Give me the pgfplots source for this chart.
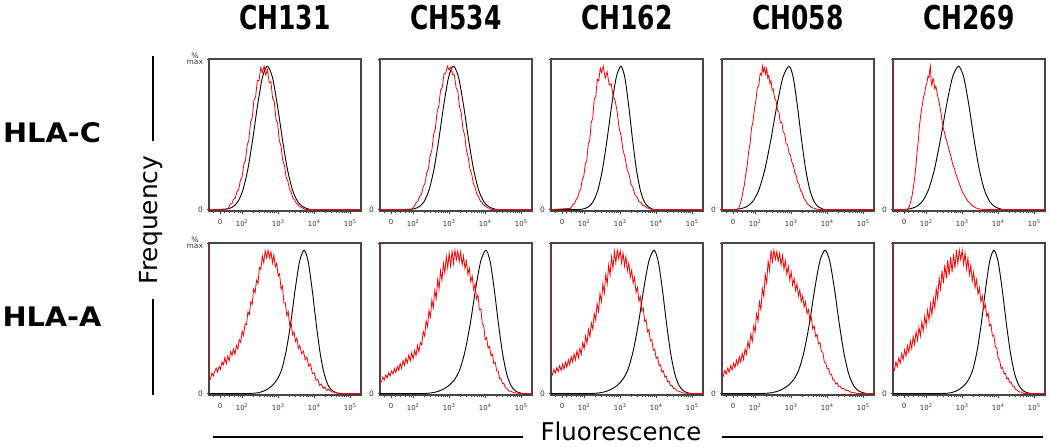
\documentclass[border=0pt]{standalone}
\usepackage{fontspec}
\setmainfont{DejaVu Sans}
\usepackage{graphicx}
\usepackage{pgfplots}
\pgfplotsset{compat=1.18}
\pgfplotsset{
 panel/.style={
   scale only axis, width=152bp, height=152bp,
   xmin=1.08, xmax=5.3, ymin=-1, ymax=105,
   axis line style={draw=black!72, line width=1.1bp},
   xtick={1.39,2,3,4,5},
   xticklabels={0,10\textsuperscript{2},10\textsuperscript{3},10\textsuperscript{4},10\textsuperscript{5}},
   minor xtick={1.2,1.5,1.65,1.78,1.88,1.95,2.301,2.477,2.602,2.699,2.778,2.845,2.903,2.954,3.301,3.477,3.602,3.699,3.778,3.845,3.903,3.954,4.301,4.477,4.602,4.699,4.778,4.845,4.903,4.954},
   ytick={0,105},
   yticklabels={0,{}},
   tick align=outside,
   xtick pos=left, ytick pos=left,
   major tick length=2.5bp, minor tick length=1.6bp,
   every tick/.style={black!75, line width=0.6bp},
   xticklabel style={font=\fontsize{7}{7}\selectfont, text=black!80, yshift=-2.5bp},
   yticklabel style={font=\fontsize{7.5}{7}\selectfont, text=black!80, align=center},
 },
 firstcol/.style={yticklabels={0,{\%\\[-1.5pt]max}}},
 blk/.style={black, line width=0.9bp, smooth, tension=0.45},
 rd/.style={red, line width=0.8bp},
}
\begin{document}
\begin{tikzpicture}
\path[use as bounding box] (0,0) rectangle (1050bp,-447bp);
% ================= ROW 1 : HLA-C =================
\begin{axis}[panel, firstcol, at={(209bp,-211bp)}, anchor=south west]
\addplot[blk] coordinates {(1.08,0)(1.4,0)(1.612,0.6)(1.748,2.0)(1.884,5.6)(2.02,13.5)(2.156,27.8)(2.292,48.7)(2.428,72.6)(2.564,92.3)(2.70,100)(2.84,92.3)(2.98,72.6)(3.12,48.7)(3.26,27.8)(3.40,13.5)(3.54,5.6)(3.68,2.0)(3.82,0.6)(4.0,0)(5.3,0)};
\addplot[rd] coordinates {(1.08,0)(1.576,0.3)(1.623,1.2)(1.67,3.8)(1.717,4.2)(1.764,7.4)(1.811,8.1)(1.858,12.8)(1.905,14.0)(1.952,20.5)(1.999,22.6)(2.046,31.4)(2.093,34.5)(2.14,45.0)(2.187,48.6)(2.234,60.9)(2.281,64.2)(2.328,76.5)(2.375,78.7)(2.422,90.1)(2.469,89.8)(2.516,99.0)(2.563,95.6)(2.61,100)(2.657,93.8)(2.704,97.5)(2.751,88.4)(2.798,89.2)(2.845,77.6)(2.892,75.3)(2.939,63.1)(2.986,59.8)(3.033,48.0)(3.08,44.1)(3.127,34.2)(3.174,30.8)(3.221,22.7)(3.268,19.9)(3.315,14.1)(3.362,12.0)(3.409,8.0)(3.456,6.9)(3.503,4.3)(3.55,3.5)(3.597,2.0)(3.644,1.5)(3.691,0.8)(3.738,0.3)(3.8,0)(5.3,0)};
\end{axis}
\begin{axis}[panel, at={(380bp,-211bp)}, anchor=south west]
\addplot[blk] coordinates {(1.08,0)(1.8,0)(2.032,0.6)(2.168,2.0)(2.304,5.6)(2.44,13.5)(2.576,27.8)(2.712,48.7)(2.848,72.6)(2.984,92.3)(3.12,100)(3.26,92.3)(3.40,72.6)(3.54,48.7)(3.68,27.8)(3.82,13.5)(3.96,5.6)(4.10,2.0)(4.24,0.6)(4.4,0)(5.3,0)};
\addplot[rd] coordinates {(1.08,0)(1.944,0.2)(1.992,0.9)(2.04,2.6)(2.088,5.1)(2.136,6.0)(2.184,9.4)(2.232,10.8)(2.28,15.9)(2.328,18.2)(2.376,25.3)(2.424,28.4)(2.472,37.2)(2.52,41.5)(2.568,52.3)(2.616,56.4)(2.664,67.9)(2.712,72.1)(2.76,83.0)(2.808,85.2)(2.856,94.6)(2.904,95.1)(2.952,100)(3.0,97.3)(3.048,99.6)(3.096,93.9)(3.144,94.0)(3.192,85.1)(3.24,82.4)(3.288,71.6)(3.336,67.3)(3.384,56.0)(3.432,51.8)(3.48,41.2)(3.528,36.8)(3.576,28.3)(3.624,24.9)(3.672,18.2)(3.72,15.5)(3.768,10.9)(3.816,9.0)(3.864,6.1)(3.912,4.9)(3.96,3.1)(4.008,2.5)(4.056,1.4)(4.104,1.0)(4.152,0.3)(4.2,0)(5.3,0)};
\end{axis}
\begin{axis}[panel, at={(551bp,-211bp)}, anchor=south west]
\addplot[blk] coordinates {(1.08,0)(1.8,0)(1.996,0.6)(2.124,2.0)(2.252,5.6)(2.38,13.5)(2.508,27.8)(2.636,48.7)(2.764,72.6)(2.892,92.3)(3.02,100)(3.128,92.3)(3.236,72.6)(3.344,48.7)(3.452,27.8)(3.56,13.5)(3.668,5.6)(3.776,2.0)(3.884,0.6)(4.0,0)(5.3,0)};
\addplot[rd] coordinates {(1.08,0)(1.615,0.8)(1.656,2.1)(1.698,3.9)(1.740,4.4)(1.781,7.2)(1.823,8.3)(1.864,12.6)(1.906,14.2)(1.948,21.0)(1.989,22.9)(2.031,31.9)(2.072,34.0)(2.114,45.6)(2.156,48.3)(2.197,61.0)(2.239,63.5)(2.280,77.2)(2.322,78.4)(2.364,91.0)(2.405,89.5)(2.447,98.8)(2.488,95.4)(2.530,100)(2.585,91.7)(2.640,96.0)(2.695,86.9)(2.750,87.8)(2.805,79.0)(2.860,76.1)(2.915,68.4)(2.970,57.0)(3.025,51.6)(3.080,41.2)(3.135,36.5)(3.190,28.0)(3.245,24.8)(3.300,17.6)(3.355,15.3)(3.410,10.2)(3.465,9.1)(3.520,5.7)(3.575,5.0)(3.630,2.8)(3.685,2.6)(3.740,1.2)(3.795,0.9)(3.850,0.3)(3.9,0)(5.3,0)};
\end{axis}
\begin{axis}[panel, at={(722bp,-211bp)}, anchor=south west]
\addplot[blk] coordinates {(1.08,0)(1.4,0)(1.596,0.6)(1.764,2.0)(1.932,5.6)(2.10,13.5)(2.268,27.8)(2.436,48.7)(2.604,72.6)(2.772,92.3)(2.94,100)(3.056,92.3)(3.172,72.6)(3.288,48.7)(3.404,27.8)(3.52,13.5)(3.636,5.6)(3.752,2.0)(3.868,0.6)(4.0,0)(5.3,0)};
\addplot[rd] coordinates {(1.08,110)(1.08,0)(1.50,0)(1.54,0.5)(1.58,3.5)(1.62,7.0)(1.66,12.5)(1.70,17.2)(1.74,24.8)(1.78,31.0)(1.82,40.5)(1.86,46.2)(1.90,56.8)(1.94,61.3)(1.98,70.4)(2.02,76.0)(2.06,84.9)(2.10,86.3)(2.14,95.1)(2.18,93.7)(2.20,100)(2.23,96.2)(2.26,99.0)(2.29,94.5)(2.32,98.2)(2.35,91.8)(2.38,93.6)(2.41,88.0)(2.44,89.7)(2.47,83.5)(2.50,84.1)(2.54,77.6)(2.58,75.9)(2.62,69.3)(2.66,68.0)(2.70,60.5)(2.74,60.8)(2.78,54.1)(2.82,52.7)(2.86,46.0)(2.90,45.2)(2.94,39.4)(2.98,37.9)(3.02,33.1)(3.06,31.0)(3.10,25.8)(3.14,23.7)(3.18,19.0)(3.22,17.8)(3.26,13.2)(3.30,11.9)(3.35,8.1)(3.40,6.3)(3.45,4.0)(3.50,3.1)(3.56,1.6)(3.62,1.0)(3.70,0.4)(3.80,0)(5.3,0)};
\end{axis}
\begin{axis}[panel, at={(893bp,-211bp)}, anchor=south west]
\addplot[blk] coordinates {(1.08,0)(1.35,0)(1.556,0.6)(1.724,2.0)(1.892,5.6)(2.06,13.5)(2.228,27.8)(2.396,48.7)(2.564,72.6)(2.732,92.3)(2.90,100)(3.044,92.3)(3.188,72.6)(3.332,48.7)(3.476,27.8)(3.62,13.5)(3.764,5.6)(3.908,2.0)(4.052,0.6)(4.2,0)(5.3,0)};
\addplot[rd] coordinates {(1.08,110)(1.08,0)(1.45,0)(1.49,0.3)(1.53,2.0)(1.57,5.5)(1.61,9.8)(1.65,16.2)(1.69,24.0)(1.72,31.5)(1.75,40.8)(1.78,47.0)(1.81,57.2)(1.84,63.9)(1.87,69.4)(1.90,74.0)(1.93,78.6)(1.96,81.2)(1.99,86.0)(2.02,88.1)(2.05,93.0)(2.08,92.0)(2.10,97.5)(2.117,100)(2.14,89.0)(2.16,86.5)(2.19,91.5)(2.21,90.0)(2.24,84.2)(2.27,86.0)(2.30,82.1)(2.33,77.8)(2.36,75.0)(2.39,70.6)(2.42,66.3)(2.45,60.2)(2.48,56.0)(2.51,53.8)(2.54,50.1)(2.58,47.3)(2.62,43.0)(2.66,39.5)(2.70,35.8)(2.74,31.2)(2.78,29.0)(2.82,25.1)(2.86,22.6)(2.90,19.4)(2.94,16.8)(2.98,13.9)(3.02,11.8)(3.06,9.9)(3.10,8.3)(3.15,6.1)(3.20,4.9)(3.25,3.4)(3.30,2.4)(3.36,1.4)(3.42,0.8)(3.50,0.3)(3.60,0)(5.3,0)};
\end{axis}
% ================= ROW 2 : HLA-A =================
\begin{axis}[panel, firstcol, at={(209bp,-395bp)}, anchor=south west]
\addplot[blk] coordinates {(1.08,0)(2.1,0)(2.356,0.3)(2.48,0.8)(2.604,1.8)(2.728,3.5)(2.852,6)(2.976,10)(3.10,17)(3.224,30)(3.348,49)(3.472,72.6)(3.596,92.3)(3.72,100)(3.832,92.3)(3.944,72.6)(4.056,48.7)(4.168,27.8)(4.28,13.5)(4.392,5.6)(4.504,2.0)(4.616,0.6)(4.75,0)(5.3,0)};
\addplot[rd] coordinates {(1.08,110)(1.08,11)(1.12,10.1)(1.16,14.3)(1.20,12.4)(1.24,15.6)(1.28,17.7)(1.32,14.9)(1.36,19)(1.40,17)(1.44,22)(1.48,20)(1.52,25)(1.56,20.7)(1.60,26)(1.64,23)(1.68,29.3)(1.72,26.7)(1.76,31)(1.80,27.3)(1.84,33.7)(1.88,31)(1.92,37.7)(1.96,35.7)(2.00,43.6)(2.04,40.6)(2.08,48.5)(2.12,48)(2.16,57)(2.20,55)(2.24,64)(2.28,62.4)(2.32,72.9)(2.36,70.3)(2.40,79)(2.44,76.7)(2.48,88)(2.52,86.6)(2.56,96)(2.60,91.3)(2.64,99.7)(2.68,94.6)(2.72,100)(2.76,94.6)(2.80,98.8)(2.84,91)(2.88,96.7)(2.92,88.3)(2.96,91)(3.00,82)(3.04,83.6)(3.08,72.8)(3.12,75)(3.16,63.1)(3.20,63.2)(3.24,54.4)(3.28,57)(3.32,47.6)(3.36,49.2)(3.40,41)(3.44,43)(3.48,36.4)(3.52,38.9)(3.56,31.3)(3.60,33.6)(3.65,27.8)(3.70,29.6)(3.75,23.7)(3.80,25.5)(3.85,19)(3.90,20.5)(3.95,14)(4.00,14.6)(4.05,9.3)(4.10,9.9)(4.15,5.8)(4.20,6.7)(4.25,3.7)(4.30,4.6)(4.35,2.1)(4.40,3.1)(4.48,1.2)(4.56,1.0)(4.65,0.3)(4.80,0)(5.3,0)};
\end{axis}
\begin{axis}[panel, at={(380bp,-395bp)}, anchor=south west]
\addplot[blk] coordinates {(1.08,0)(2.2,0)(2.436,0.3)(2.58,0.8)(2.724,1.8)(2.868,3.5)(3.012,6)(3.156,10)(3.30,17)(3.444,30)(3.588,49)(3.732,72.6)(3.876,92.3)(4.02,100)(4.136,92.3)(4.252,72.6)(4.368,48.7)(4.484,27.8)(4.60,13.5)(4.716,5.6)(4.832,2.0)(4.948,0.6)(5.08,0)(5.3,0)};
\addplot[rd] coordinates {(1.08,110)(1.08,9)(1.12,8.2)(1.16,11.5)(1.20,9.6)(1.24,13.0)(1.28,11.0)(1.32,14.6)(1.36,12.2)(1.40,15.9)(1.44,13.6)(1.48,17.4)(1.52,14.7)(1.56,18.9)(1.60,16.2)(1.64,21.0)(1.68,17.6)(1.72,23.2)(1.76,19.8)(1.80,24.6)(1.84,21.4)(1.88,26.9)(1.92,22.8)(1.96,28.4)(2.00,24.2)(2.04,30.1)(2.08,26.5)(2.12,33.6)(2.16,29.0)(2.20,35.6)(2.24,33.9)(2.28,43.4)(2.32,40.1)(2.36,50.8)(2.40,46.5)(2.44,57.9)(2.48,53.4)(2.52,65.2)(2.56,59.8)(2.60,71.9)(2.64,66.2)(2.68,79.3)(2.72,73.0)(2.76,85.6)(2.80,78.9)(2.84,90.8)(2.88,84.1)(2.92,95.7)(2.96,87.6)(3.00,97.9)(3.04,89.0)(3.08,99.3)(3.12,90.7)(3.16,100)(3.20,93.4)(3.24,99.5)(3.28,92.0)(3.32,98.8)(3.36,89.7)(3.40,95.9)(3.44,87.0)(3.48,92.2)(3.52,83.1)(3.56,87.5)(3.60,77.9)(3.64,81.8)(3.68,72.4)(3.72,76.3)(3.76,66.1)(3.80,68.7)(3.84,58.4)(3.88,59.0)(3.92,48.6)(3.96,47.2)(4.00,37.6)(4.04,39.0)(4.08,31.8)(4.12,33.0)(4.16,26.4)(4.20,27.5)(4.24,21.0)(4.28,21.8)(4.32,15.7)(4.36,15.8)(4.40,10.3)(4.44,10.4)(4.48,6.9)(4.52,7.0)(4.56,3.9)(4.60,3.8)(4.66,1.7)(4.72,1.6)(4.80,0.6)(4.90,0.3)(5.00,0)(5.3,0)};
\end{axis}
\begin{axis}[panel, at={(551bp,-395bp)}, anchor=south west]
\addplot[blk] coordinates {(1.08,0)(2.1,0)(2.356,0.3)(2.50,0.8)(2.644,1.8)(2.788,3.5)(2.932,6)(3.076,10)(3.22,17)(3.364,30)(3.508,49)(3.652,72.6)(3.796,92.3)(3.94,100)(4.056,92.3)(4.172,72.6)(4.288,48.7)(4.404,27.8)(4.52,13.5)(4.636,5.6)(4.752,2.0)(4.868,0.6)(5.0,0)(5.3,0)};
\addplot[rd] coordinates {(1.08,110)(1.08,15.2)(1.12,13.1)(1.16,16.8)(1.20,14.3)(1.24,18.0)(1.28,15.2)(1.32,19.5)(1.36,16.1)(1.40,20.7)(1.44,17.0)(1.48,21.9)(1.52,18.3)(1.56,23.6)(1.60,20.0)(1.64,25.8)(1.68,21.9)(1.72,27.6)(1.76,23.5)(1.80,29.7)(1.84,25.0)(1.88,31.5)(1.92,27.4)(1.96,35.4)(2.00,31.2)(2.04,40.1)(2.08,35.0)(2.12,44.6)(2.16,39.5)(2.20,49.2)(2.24,44.9)(2.28,56.0)(2.32,51.1)(2.36,62.9)(2.40,57.4)(2.44,69.8)(2.48,63.9)(2.52,76.5)(2.56,70.1)(2.60,83.0)(2.64,76.4)(2.68,89.6)(2.72,82.5)(2.76,95.3)(2.80,87.3)(2.84,99.0)(2.88,91.2)(2.92,100)(2.96,94.2)(3.00,99.8)(3.04,91.0)(3.08,98.1)(3.12,88.9)(3.16,95.4)(3.20,85.6)(3.24,91.1)(3.28,81.0)(3.32,86.2)(3.36,77.0)(3.40,80.9)(3.44,70.6)(3.48,74.0)(3.52,64.5)(3.56,67.6)(3.60,57.9)(3.64,59.8)(3.68,50.3)(3.72,51.5)(3.76,43.1)(3.80,44.6)(3.84,36.8)(3.88,37.5)(3.92,30.2)(3.96,30.9)(4.00,24.6)(4.04,25.5)(4.08,19.6)(4.12,20.1)(4.16,14.9)(4.20,15.9)(4.24,11.4)(4.28,12.1)(4.32,8.2)(4.36,8.5)(4.40,5.4)(4.44,5.7)(4.48,3.6)(4.52,3.7)(4.58,1.8)(4.64,1.6)(4.72,0.6)(4.82,0.2)(4.95,0)(5.3,0)};
\end{axis}
\begin{axis}[panel, at={(722bp,-395bp)}, anchor=south west]
\addplot[blk] coordinates {(1.08,0)(2.1,0)(2.356,0.3)(2.50,0.8)(2.644,1.8)(2.788,3.5)(2.932,6)(3.076,10)(3.22,17)(3.364,30)(3.508,49)(3.652,72.6)(3.796,92.3)(3.94,100)(4.072,92.3)(4.204,72.6)(4.336,48.7)(4.468,27.8)(4.60,13.5)(4.732,5.6)(4.864,2.0)(4.996,0.6)(5.12,0)(5.3,0)};
\addplot[rd] coordinates {(1.08,110)(1.08,14.0)(1.12,12.3)(1.16,16.2)(1.20,13.6)(1.24,17.8)(1.28,15.0)(1.32,19.4)(1.36,16.4)(1.40,21.1)(1.44,18.0)(1.48,23.4)(1.52,19.9)(1.56,25.7)(1.60,21.8)(1.64,28.1)(1.68,23.8)(1.72,31.1)(1.76,27.6)(1.80,36.3)(1.84,32.0)(1.88,41.5)(1.92,36.4)(1.96,47.0)(2.00,43.0)(2.04,55.6)(2.08,50.6)(2.12,63.9)(2.16,58.5)(2.20,73.2)(2.24,67.7)(2.28,83.0)(2.32,77.1)(2.36,92.4)(2.40,85.9)(2.44,100)(2.48,92.1)(2.52,100)(2.56,93.6)(2.60,98.9)(2.64,92.4)(2.68,98.0)(2.72,89.5)(2.76,96.2)(2.80,86.8)(2.84,92.6)(2.88,83.1)(2.92,88.7)(2.96,79.2)(3.00,84.9)(3.04,75.6)(3.08,80.4)(3.12,71.9)(3.16,76.5)(3.20,68.0)(3.24,72.4)(3.28,64.1)(3.32,68.3)(3.36,60.2)(3.40,64.0)(3.44,55.8)(3.48,58.5)(3.52,50.4)(3.56,52.9)(3.60,45.1)(3.64,47.0)(3.68,39.8)(3.72,41.3)(3.76,34.6)(3.80,35.5)(3.84,29.3)(3.88,28.8)(3.92,21.9)(3.96,21.3)(4.00,17.4)(4.04,17.5)(4.08,13.4)(4.12,13.5)(4.16,9.3)(4.20,9.5)(4.24,6.7)(4.28,7.3)(4.32,5.0)(4.36,5.2)(4.40,3.4)(4.46,3.6)(4.52,2.2)(4.58,2.1)(4.66,0.9)(4.74,0.6)(4.85,0)(5.3,0)};
\end{axis}
\begin{axis}[panel, at={(893bp,-395bp)}, anchor=south west]
\addplot[blk] coordinates {(1.08,0)(2.35,0)(2.604,0.3)(2.72,0.8)(2.836,1.8)(2.952,3.5)(3.068,6)(3.184,10)(3.30,17)(3.416,30)(3.532,49)(3.648,72.6)(3.764,92.3)(3.88,100)(3.996,92.3)(4.112,72.6)(4.228,48.7)(4.344,27.8)(4.46,13.5)(4.576,5.6)(4.692,2.0)(4.808,0.6)(4.95,0)(5.3,0)};
\addplot[rd] coordinates {(1.08,110)(1.08,18.4)(1.12,16.2)(1.16,22.0)(1.20,18.7)(1.24,24.8)(1.28,21.1)(1.32,27.8)(1.36,23.5)(1.40,30.6)(1.44,26.1)(1.48,33.4)(1.52,28.8)(1.56,36.7)(1.60,31.5)(1.64,39.9)(1.68,34.3)(1.72,43.2)(1.76,37.2)(1.80,46.3)(1.84,40.1)(1.88,50.0)(1.92,43.9)(1.96,54.0)(2.00,47.4)(2.04,58.1)(2.08,51.2)(2.12,62.3)(2.16,54.8)(2.20,66.4)(2.24,59.8)(2.28,73.4)(2.32,66.3)(2.36,80.5)(2.40,73.0)(2.44,85.9)(2.48,76.8)(2.52,89.9)(2.56,80.4)(2.60,93.0)(2.64,82.6)(2.68,95.1)(2.72,84.6)(2.76,97.3)(2.80,87.4)(2.84,100)(2.88,90.6)(2.92,100)(2.96,93.5)(3.00,100)(3.04,90.1)(3.08,98.2)(3.12,86.8)(3.16,94.4)(3.20,82.7)(3.24,89.6)(3.28,78.4)(3.32,84.7)(3.36,73.9)(3.40,79.4)(3.44,69.2)(3.48,73.8)(3.52,64.1)(3.56,68.0)(3.60,59.0)(3.64,62.4)(3.68,54.0)(3.72,56.1)(3.76,47.2)(3.80,48.3)(3.84,40.1)(3.88,40.5)(3.92,32.6)(3.96,32.0)(4.00,24.6)(4.04,23.4)(4.08,17.5)(4.12,18.1)(4.16,13.9)(4.20,14.1)(4.24,10.2)(4.28,10.8)(4.32,7.7)(4.36,8.0)(4.40,5.2)(4.44,5.3)(4.48,2.9)(4.52,2.6)(4.58,1.2)(4.64,1.0)(4.71,0)(5.3,0)};
\end{axis}
% ================= annotations =================
\foreach \cx/\t in {285/CH131,456/CH534,627/CH162,798/CH058,969/CH269}
  \node[font=\fontsize{33}{33}\selectfont\bfseries, inner sep=0pt] at (\cx bp,-18bp) {\scalebox{0.76}[1]{\t}};
\node[font=\fontsize{27}{27}\selectfont\bfseries, inner sep=0pt] at (52bp,-133bp) {\scalebox{1.07}[1]{HLA-C}};
\node[font=\fontsize{27}{27}\selectfont\bfseries, inner sep=0pt] at (52bp,-317bp) {\scalebox{1.07}[1]{HLA-A}};
\draw[line width=1.7bp] (153bp,-56bp) -- (153bp,-141bp);
\draw[line width=1.7bp] (153bp,-299bp) -- (153bp,-395bp);
\node[font=\fontsize{25}{25}\selectfont, rotate=90, inner sep=0pt] at (151bp,-220bp) {Frequency};
\draw[line width=1.7bp] (213bp,-437bp) -- (523bp,-437bp);
\draw[line width=1.7bp] (722bp,-437bp) -- (1043bp,-437bp);
\node[font=\fontsize{24.5}{25}\selectfont, inner sep=0pt] at (621bp,-431bp) {Fluorescence};
\end{tikzpicture}
\end{document}
